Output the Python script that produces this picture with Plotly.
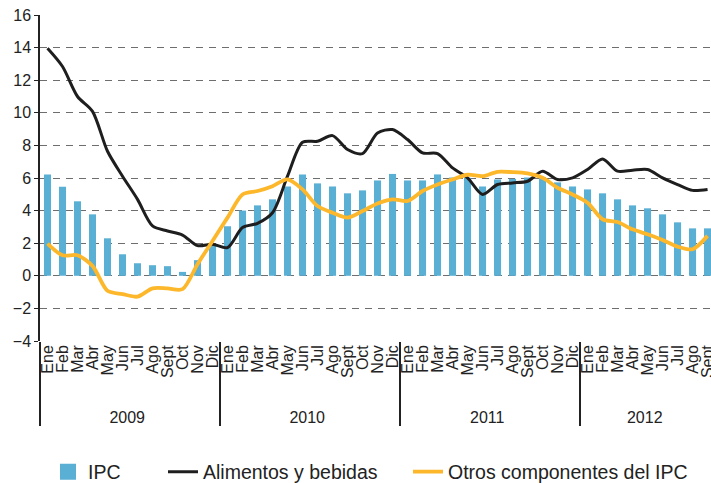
import plotly.graph_objects as go

years = ["2009"] * 12 + ["2010"] * 12 + ["2011"] * 12 + ["2012"] * 9
month_names = ["Ene", "Feb", "Mar", "Abr", "May", "Jun", "Jul", "Ago", "Sept", "Oct", "Nov", "Dic"]
months = month_names * 3 + month_names[:9]

ipc = [6.22, 5.46, 4.57, 3.77, 2.30, 1.32, 0.77, 0.65, 0.59, 0.24, 0.96, 1.94,
       3.04, 4.00, 4.32, 4.69, 5.48, 6.22, 5.67, 5.48, 5.06, 5.24, 5.85, 6.25,
       5.85, 5.85, 6.22, 6.03, 6.01, 5.48, 5.91, 5.95, 6.03, 6.05, 5.73, 5.48,
       5.30, 5.06, 4.69, 4.32, 4.14, 3.77, 3.28, 2.91, 2.91]

alimentos = [13.96, 12.84, 11.0, 10.09, 7.64, 6.11, 4.69, 3.06, 2.75, 2.5, 1.85, 1.94,
             1.73, 2.96, 3.22, 3.87, 6.11, 8.19, 8.25, 8.6, 7.75, 7.5, 8.76, 8.97,
             8.36, 7.54, 7.5, 6.62, 6.01, 4.99, 5.6, 5.7, 5.8, 6.42, 5.91, 6.01,
             6.52, 7.17, 6.42, 6.48, 6.52, 6.01, 5.6, 5.24, 5.3]

otros = [1.98, 1.26, 1.26, 0.61, -0.92, -1.12, -1.28, -0.77, -0.77, -0.82, 0.71, 2.14,
         3.57, 4.99, 5.2, 5.5, 5.91, 5.3, 4.28, 3.87, 3.57, 3.97, 4.44, 4.69,
         4.59, 5.2, 5.6, 5.91, 6.2, 6.11, 6.38, 6.36, 6.28, 6.01, 5.4, 4.99,
         4.48, 3.47, 3.30, 2.85, 2.55, 2.2, 1.79, 1.63, 2.45]

FONT = "Liberation Sans, Arial, sans-serif"
n = len(months)
x_range = [-0.5, 44.23]
BLUE = "#5AAFD4"
BLACK = "#1E1E1E"
YELLOW = "#FDB72A"

# month labels padded (invisible non-breaking spaces) so the year row sits lower
pad = "\u00a0" * 3
month_labels = [pad + m for m in months]
xcat = [years, month_labels]

fig = go.Figure()
fig.add_trace(go.Bar(x=xcat, y=ipc, name="IPC", marker_color=BLUE,
                     marker_line_width=0, showlegend=False))
# legend entry for the bars (square swatch)
fig.add_trace(go.Scatter(x=[[years[0]], [month_labels[0]]], y=[None], name="IPC",
                         mode="markers", marker=dict(symbol="square", size=19, color=BLUE),
                         legend="legend"))
fig.add_trace(go.Scatter(x=xcat, y=alimentos, name="Alimentos y bebidas",
                         mode="lines", line=dict(color=BLACK, width=3, shape="spline",
                                                 smoothing=0.8), legend="legend2"))
fig.add_trace(go.Scatter(x=xcat, y=otros, name="Otros componentes del IPC",
                         mode="lines", line=dict(color=YELLOW, width=3.8, shape="spline",
                                                 smoothing=0.8), legend="legend3"))

W, H = 711, 483
leg_common = dict(orientation="h", xref="container", yref="container",
                  yanchor="middle", y=(H - 472) / H, xanchor="left",
                  font=dict(size=19.5, color="#222222"), bgcolor="rgba(0,0,0,0)")

fig.update_layout(
    width=W, height=H,
    margin=dict(l=40, r=0, t=15, b=142),
    paper_bgcolor="white", plot_bgcolor="white",
    font=dict(family=FONT, size=16, color="#222222"),
    bargap=0.53,
    showlegend=True,
    legend=dict(leg_common, x=48 / W),
    legend2=dict(leg_common, x=163 / W),
    legend3=dict(leg_common, x=408 / W),
    xaxis=dict(type="multicategory", range=x_range, showgrid=False, showline=False,
               ticks="", tickangle=-90, tickfont=dict(size=16, color="#222222"),
               tickmode="linear", tick0=0, dtick=1, automargin=False,
               showdividers=True, dividercolor="#222222", dividerwidth=1.5),
    yaxis=dict(range=[-4, 16], dtick=2, showgrid=True, gridcolor="#6E6E6E",
               griddash="7px,6px", gridwidth=1.2, showline=True, linecolor="#222222",
               linewidth=1.5, ticks="outside", ticklen=4, tickcolor="#222222",
               tickfont=dict(size=16, color="#222222"), zeroline=False,
               automargin=False),
    xaxis2=dict(overlaying="x", anchor="free", position=0.2, range=x_range,
                tickmode="array", tickvals=[i - 0.5 for i in range(n + 1)],
                ticks="outside", ticklen=5, tickcolor="#222222", tickwidth=1.2,
                showticklabels=False, showgrid=False, showline=True,
                linecolor="#222222", linewidth=2, zeroline=False, automargin=False),
)

fig.write_html("out.html", config={"displayModeBar": False},
               post_script="document.body.style.margin='0';")
